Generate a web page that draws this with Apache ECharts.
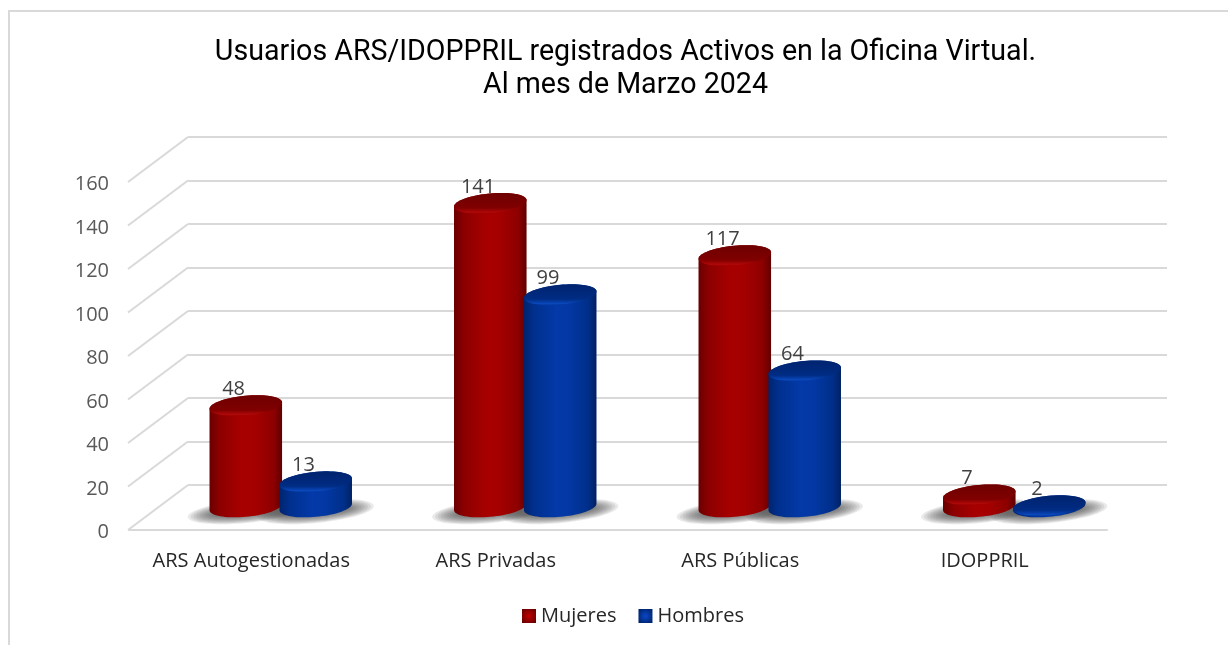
<!DOCTYPE html>
<html><head><meta charset="utf-8">
<style>html,body{margin:0;padding:0;background:#fff}#c{width:1228px;height:645px}</style>
<script src="https://cdn.jsdelivr.net/npm/echarts@6/dist/echarts.min.js"></script>
</head><body><div id="c"></div>
<script>
const categories = ['ARS Autogestionadas','ARS Privadas','ARS Públicas','IDOPPRIL'];
const mujeres = [48,141,117,7];
const hombres = [13,99,64,2];
const yTicks = [0,20,40,60,80,100,120,140,160];
const titleText = 'Usuarios ARS/IDOPPRIL registrados Activos en la Oficina Virtual.\nAl mes de Marzo 2024';

const FONT = '"Open Sans","Noto Sans",sans-serif';
const TILT = -5.5*Math.PI/180, BASE = 1.4;
const lin = (x2,y2,st)=>({type:'linear',x:0,y:0,x2,y2,colorStops:st.map(s=>({offset:s[0],color:s[1]}))});
const red = {
  body: lin(1,0,[[0,'#6a0000'],[.14,'#8c0000'],[.45,'#a80000'],[.62,'#a50000'],[.88,'#8e0000'],[1,'#600000']]),
  top: lin(0,1,[[0,'#6e0000'],[.72,'#800000'],[.93,'#b00808'],[1,'#9c0000']])
};
const blue = {
  body: lin(1,0,[[0,'#00246e'],[.14,'#00308e'],[.45,'#0339a8'],[.62,'#0338a4'],[.88,'#002f8a'],[1,'#002264']]),
  top: lin(0,1,[[0,'#00236e'],[.72,'#002c84'],[.93,'#0a48bc'],[1,'#023aa0']])
};
function pt(cx,cy,a,b,t){
  const x=a*Math.cos(t), y=b*Math.sin(t);
  return [cx+x*Math.cos(TILT)-y*Math.sin(TILT), cy+x*Math.sin(TILT)+y*Math.cos(TILT)];
}
function ellipse(cx,cy,a,b){
  const p=[]; for(let i=0;i<72;i++) p.push(pt(cx,cy,a,b,i/72*2*Math.PI)); return p;
}
function cylinder(colors,offset){
  return function(params,api){
    const i=api.value(0), v=api.value(1);
    const step=api.size([1,0])[0];
    const a=step*0.149, b=a*0.27;
    const top=api.coord([i,v]), base=api.coord([i,BASE]);
    const cx=top[0]+step*offset, ty=Math.min(top[1],base[1]), by=base[1];
    const t0=Math.atan(-b*Math.tan(TILT)/a);
    const outline=[];
    for(let k=0;k<=36;k++) outline.push(pt(cx,by,a,b,t0+k/36*Math.PI));
    for(let k=0;k<=36;k++) outline.push(pt(cx,ty,a,b,t0+Math.PI+k/36*Math.PI));
    return {type:'group',children:[
      {type:'polygon',shape:{points:outline},style:{fill:colors.body}},
      {type:'polygon',shape:{points:ellipse(cx,ty,a,b)},style:{fill:colors.top}},
      {type:'text',style:{text:String(v),x:cx-step*0.05,y:ty-16.5,align:'center',verticalAlign:'middle',
        fill:'#404040',font:'20px '+FONT}}
    ]};
  };
}
function floorShadow(offset){
  return function(params,api){
    const i=api.value(0);
    const step=api.size([1,0])[0];
    const base=api.coord([i,0]);
    const a0=step*0.149, layers=[];
    for(let k=0;k<9;k++){
      const f=k/8;
      layers.push({type:'polygon',shape:{points:ellipse(base[0]+step*offset,base[1]+1.5,a0+22-24*f,11.5-7*f)},
        style:{fill:'rgba(60,60,60,.11)'}});
    }
    return {type:'group',children:layers};
  };
}
function wallLines(params,api){
  const p=api.coord([0,api.value(0)]);
  const x=params.coordSys.x-1;
  return {type:'line',shape:{x1:x,y1:p[1],x2:x+60,y2:p[1]-45},style:{stroke:'#d9d9d9',lineWidth:2}};
}
const asPairs=a=>a.map((v,i)=>[i,v]);
const hiddenCat={type:'category',data:categories,axisLine:{show:false},axisTick:{show:false},axisLabel:{show:false},splitLine:{show:false}};
const hiddenVal={type:'value',min:0,max:160,interval:20,axisLine:{show:false},axisTick:{show:false},axisLabel:{show:false},splitLine:{show:false}};

const chart=echarts.init(document.getElementById('c'),null,{renderer:'canvas'});
chart.setOption({
  animation:false,
  backgroundColor:'#fff',
  title:{text:titleText,left:620.5,top:31,textAlign:'center',
    textStyle:{fontFamily:'Roboto',fontSize:28.6,fontWeight:'normal',color:'#000',lineHeight:33}},
  legend:{left:517,top:601,itemWidth:14,itemHeight:14,itemGap:22,
    textStyle:{fontFamily:FONT,fontSize:20,color:'#262626'},
    data:[
      {name:'Mujeres',icon:'rect',itemStyle:{color:{type:'radial',x:.5,y:.5,r:.6,colorStops:[{offset:0,color:'#c00000'},{offset:1,color:'#6e0000'}]}}},
      {name:'Hombres',icon:'rect',itemStyle:{color:{type:'radial',x:.5,y:.5,r:.6,colorStops:[{offset:0,color:'#0a48c8'},{offset:1,color:'#00246e'}]}}}
    ]},
  grid:[
    {left:129,right:121,top:182,height:348},   // front edge
    {left:188,right:61,top:137,height:348},    // back wall: gridlines
    {left:158.5,right:91.5,top:162,height:348},// mid plane: columns
    {left:129,right:121,top:184.5,height:348}  // value-label placement
  ],
  xAxis:[
    {type:'category',gridIndex:0,data:categories,axisTick:{show:false},
      axisLine:{lineStyle:{color:'#d9d9d9',width:2}},
      axisLabel:{interval:0,margin:21,color:'#262626',fontFamily:FONT,fontSize:20}},
    Object.assign({gridIndex:1},hiddenCat),
    Object.assign({gridIndex:2},hiddenCat),
    Object.assign({gridIndex:3},hiddenCat)
  ],
  yAxis:[
    Object.assign({},hiddenVal,{gridIndex:0}),
    Object.assign({},hiddenVal,{gridIndex:1,splitLine:{show:true,lineStyle:{color:'#d9d9d9',width:2}}}),
    Object.assign({},hiddenVal,{gridIndex:2}),
    Object.assign({},hiddenVal,{gridIndex:3,axisLabel:{show:true,margin:20,color:'#595959',fontFamily:FONT,fontSize:20}})
  ],
  series:[
    {type:'custom',name:'pared',coordinateSystem:'cartesian2d',xAxisIndex:0,yAxisIndex:0,z:1,silent:true,clip:false,
      data:yTicks.map(v=>[v]),encode:{y:0},renderItem:wallLines},
    {type:'custom',name:'sombraH',coordinateSystem:'cartesian2d',xAxisIndex:2,yAxisIndex:2,z:2,silent:true,
      data:asPairs(hombres),encode:{x:0,y:1},renderItem:floorShadow(0.143)},
    {type:'custom',name:'sombraM',coordinateSystem:'cartesian2d',xAxisIndex:2,yAxisIndex:2,z:2,silent:true,
      data:asPairs(mujeres),encode:{x:0,y:1},renderItem:floorShadow(-0.143)},
    {type:'custom',name:'Mujeres',coordinateSystem:'cartesian2d',xAxisIndex:2,yAxisIndex:2,z:3,
      data:asPairs(mujeres),encode:{x:0,y:1},renderItem:cylinder(red,-0.143),itemStyle:{color:'#a00000'}},
    {type:'custom',name:'Hombres',coordinateSystem:'cartesian2d',xAxisIndex:2,yAxisIndex:2,z:4,
      data:asPairs(hombres),encode:{x:0,y:1},renderItem:cylinder(blue,0.143),itemStyle:{color:'#0338a8'}}
  ],
  graphic:[
    {type:'polyline',silent:true,z:0,shape:{points:[[9,645],[9,11],[1228,11]]},style:{stroke:'#d9d9d9',lineWidth:2,fill:null}}
  ]
});
</script></body></html>
